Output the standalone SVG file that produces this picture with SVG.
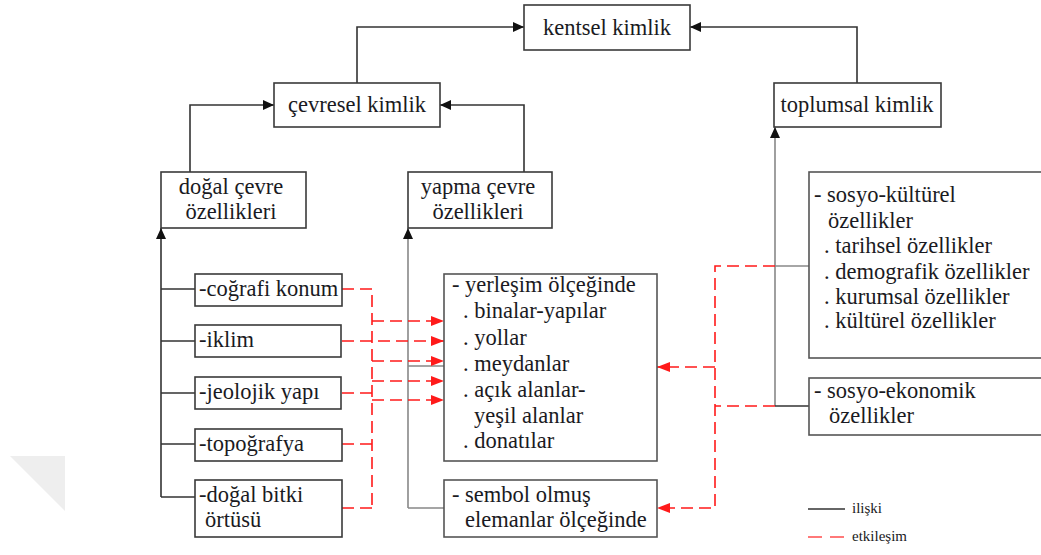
<svg xmlns="http://www.w3.org/2000/svg" width="1041" height="555" viewBox="0 0 1041 555" font-family="'Liberation Serif', 'DejaVu Serif', 'Times New Roman', Times, serif">
<style>
.box{fill:#fff;stroke:#3a3a3a;stroke-width:1.6}
.box2{fill:#fff;stroke:#555;stroke-width:1.6}
text{font-family:'Liberation Serif','DejaVu Serif','Times New Roman',Times,serif;font-size:22.5px;fill:#1a1a22}
.c{text-anchor:middle}
.k{fill:none;stroke:#333;stroke-width:1.6}
.g{fill:none;stroke:#888;stroke-width:1.6}
.r{fill:none;stroke:#ff1a1a;stroke-width:1.6;stroke-dasharray:12 6}
.leg{font-size:15px}
</style>
<defs>
<marker id="ak" markerUnits="userSpaceOnUse" markerWidth="12" markerHeight="10" refX="11" refY="5" orient="auto"><path d="M0,0 L11,5 L0,10 Z" fill="#111"/></marker>
<marker id="ar" markerUnits="userSpaceOnUse" markerWidth="14" markerHeight="10" refX="13" refY="5" orient="auto"><path d="M0,0 L13,5 L0,10 Z" fill="#ff1a1a"/></marker>
</defs>
<polygon points="10,456 65,456 65,511" fill="#eeeeee"/>
<g id="connectors">
<path class="k" d="M357,83 V27 H524" marker-end="url(#ak)"/>
<path class="k" d="M857,83 V27 H690" marker-end="url(#ak)"/>
<path class="k" d="M190,172 V105 H274" marker-end="url(#ak)"/>
<path class="k" d="M524,172 V105 H440" marker-end="url(#ak)"/>
<path class="k" d="M161,497 V228" marker-end="url(#ak)"/>
<path class="k" d="M161,289 H195 M161,341 H195 M161,393 H195 M161,444 H195 M161,497 H195"/>
<path class="g" d="M408,508 V228" marker-end="url(#ak)"/>
<path class="g" d="M408,508 H444 M408,366 H444"/>
<path class="g" d="M775,406 V127" marker-end="url(#ak)"/>
<path class="g" d="M775,266 H809"/>
<path class="k" d="M775,406 H809"/>
<path class="r" d="M342,289 H372 V508"/>
<path class="r" d="M342,393 H372 M342,444 H372 M342,508 H372"/>
<path class="r" d="M342,341 H444" marker-end="url(#ar)"/>
<path class="r" d="M372,321 H444" marker-end="url(#ar)"/>
<path class="r" d="M372,361 H444" marker-end="url(#ar)"/>
<path class="r" d="M372,381 H444" marker-end="url(#ar)"/>
<path class="r" d="M372,400 H444" marker-end="url(#ar)"/>
<path class="r" d="M775,266 H715 V508 H657" marker-end="url(#ar)"/>
<path class="r" d="M775,406 H715"/>
<path class="r" d="M715,367 H657" marker-end="url(#ar)"/>
</g>
<g id="kentsel"><rect class="box" x="524" y="5" width="166" height="45"/><text class="c" x="607" y="35">kentsel kimlik</text></g>
<g id="cevresel"><rect class="box" x="274" y="83" width="166" height="44"/><text class="c" x="357" y="112">çevresel kimlik</text></g>
<g id="toplumsal"><rect class="box" x="774" y="83" width="167" height="44"/><text class="c" x="857" y="112">toplumsal kimlik</text></g>
<g id="dogal"><rect class="box" x="161" y="172" width="145" height="56"/><text class="c" x="231" y="194">doğal çevre</text><text class="c" x="231" y="219">özellikleri</text></g>
<g id="yapma"><rect class="box" x="408" y="172" width="144" height="56"/><text class="c" x="478" y="194">yapma çevre</text><text class="c" x="478" y="219">özellikleri</text></g>
<g id="cografi"><rect class="box" x="195" y="274" width="147" height="32"/><text x="199" y="296">-coğrafi konum</text></g>
<g id="iklim"><rect class="box" x="195" y="325" width="146" height="32"/><text x="199" y="347">-iklim</text></g>
<g id="jeolojik"><rect class="box" x="195" y="377" width="146" height="32"/><text x="199" y="399">-jeolojik yapı</text></g>
<g id="topografya"><rect class="box" x="195" y="429" width="147" height="32"/><text x="199" y="451">-topoğrafya</text></g>
<g id="bitki"><rect class="box" x="195" y="480" width="147" height="57"/><text x="199" y="502">-doğal bitki</text><text x="205" y="527">örtüsü</text></g>
<g id="yerlesim"><rect class="box2" x="444" y="274" width="213" height="187"/>
<text x="452" y="292">- yerleşim ölçeğinde</text>
<text x="463" y="318">. binalar-yapılar</text>
<text x="463" y="345">. yollar</text>
<text x="463" y="371">. meydanlar</text>
<text x="463" y="397">. açık alanlar-</text>
<text x="474" y="423">yeşil alanlar</text>
<text x="463" y="448">. donatılar</text></g>
<g id="sembol"><rect class="box2" x="444" y="480" width="213" height="57"/><text x="452" y="502">- sembol olmuş</text><text x="465" y="527">elemanlar ölçeğinde</text></g>
<g id="sosyokulturel"><rect class="box2" x="809" y="172" width="240" height="186"/>
<text x="814" y="202">- sosyo-kültürel</text>
<text x="828" y="228">özellikler</text>
<text x="824" y="253">. tarihsel özellikler</text>
<text x="824" y="279">. demografik özellikler</text>
<text x="824" y="304">. kurumsal özellikler</text>
<text x="824" y="328">. kültürel özellikler</text></g>
<g id="sosyoekonomik"><rect class="box2" x="809" y="378" width="240" height="57"/><text x="814" y="398">- sosyo-ekonomik</text><text x="829" y="423">özellikler</text></g>
<g id="legend">
<path d="M808,509 H845" stroke="#333" stroke-width="1.6"/>
<path d="M808,537 H845" stroke="#ff4d4d" stroke-width="1.6" stroke-dasharray="14 8"/>
<text class="leg" x="852" y="513">ilişki</text>
<text class="leg" x="852" y="541">etkileşim</text>
</g>
</svg>
